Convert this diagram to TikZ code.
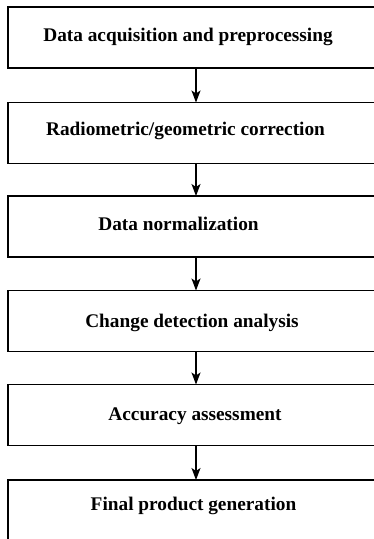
\documentclass[tikz,border=0pt]{standalone}
\usepackage{fontspec}
\setmainfont{Liberation Serif}
\usetikzlibrary{arrows.meta}
\begin{document}
\begin{tikzpicture}[x=1pt,y=-1pt,
  box/.style={draw=black, line width=1.5pt, minimum width=382pt, minimum height=61pt, inner sep=0pt, outer sep=0pt},
  lbl/.style={anchor=base, inner sep=0pt, font=\fontsize{19.3}{22}\selectfont\bfseries},
  conn/.style={line width=1.3pt, -{Stealth[length=12pt,width=9pt,inset=3pt]}}]
\useasboundingbox (0,0) rectangle (374,539);
\clip (0,0) rectangle (374,539);
\node[box] (b1) at (199,37.5) {};
\node[box] (b2) at (199,133) {};
\node[box] (b3) at (199,226.5) {};
\node[box] (b4) at (199,321) {};
\node[box] (b5) at (199,415) {};
\node[box] (b6) at (199,510.5) {};
\node[lbl] (t1) at (188,41) {Data acquisition and preprocessing};
\node[lbl] (t2) at (185.5,135) {Radiometric/geometric correction};
\node[lbl] (t3) at (178.5,230) {Data normalization};
\node[lbl] (t4) at (192,327) {Change detection analysis};
\node[lbl] (t5) at (195,420) {Accuracy assessment};
\node[lbl] (t6) at (193.5,510) {Final product generation};
\draw[conn] (b1.south -| 196,0) -- (b2.north -| 196,0);
\draw[conn] (b2.south -| 196,0) -- (b3.north -| 196,0);
\draw[conn] (b3.south -| 196,0) -- (b4.north -| 196,0);
\draw[conn] (b4.south -| 196,0) -- (b5.north -| 196,0);
\draw[conn] (b5.south -| 196,0) -- (b6.north -| 196,0);
\end{tikzpicture}
\end{document}
